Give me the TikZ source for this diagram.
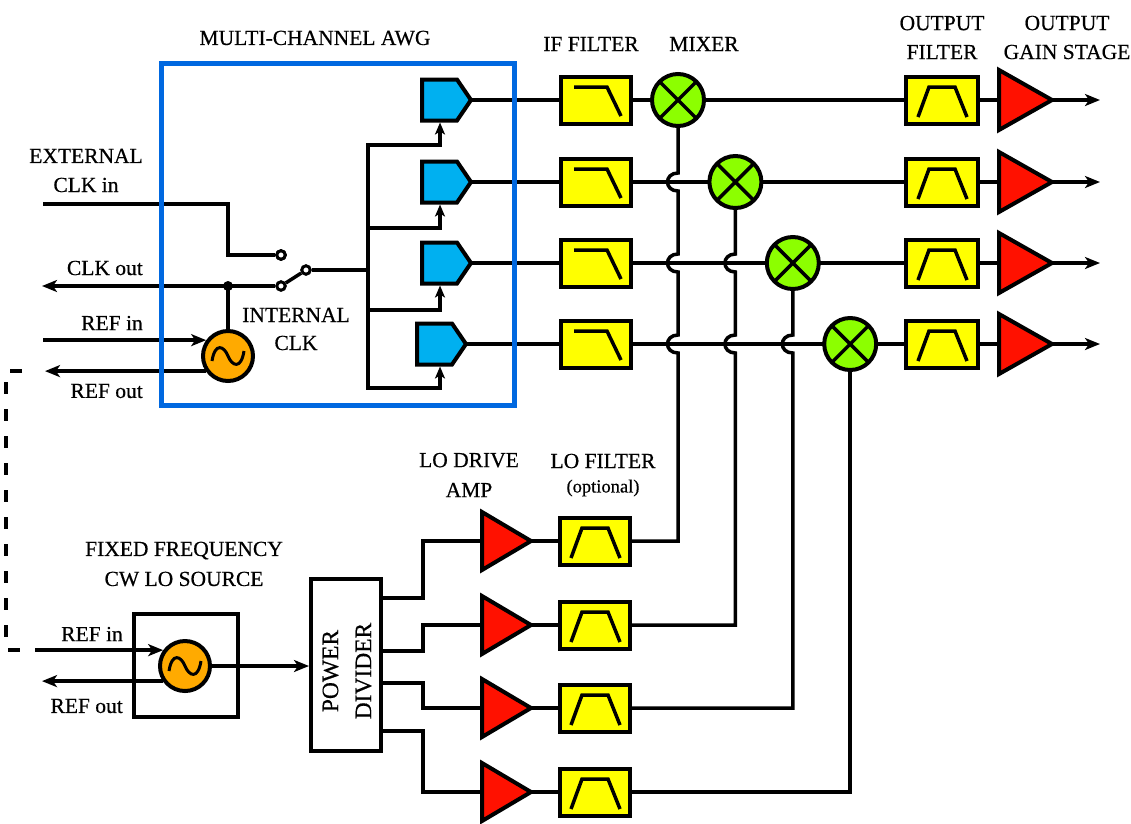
\documentclass[tikz,border=0pt]{standalone}
\usepackage{fontspec}
\setmainfont{Liberation Serif}[FakeBold=0.5]
\usetikzlibrary{arrows.meta}
\definecolor{awgblue}{HTML}{0068E0}
\definecolor{dacblue}{HTML}{00B0F0}
\definecolor{fyel}{HTML}{FFFF00}
\definecolor{mixgreen}{HTML}{8CFF00}
\definecolor{ampred}{HTML}{FF1100}
\definecolor{oscorange}{HTML}{FFAA00}
\newcommand\mysine[1]{\draw[symline,line width=3pt] ([shift={(-16,5)}]#1.center) .. controls ([shift={(-13,-14)}]#1.center) and ([shift={(-4,-10)}]#1.center) .. (#1.center) .. controls ([shift={(4,10)}]#1.center) and ([shift={(13,14)}]#1.center) .. ([shift={(16,-5)}]#1.center);}
\newcommand\lpsym[1]{\draw[symline] ([shift={(-22,-13)}]#1.center) -- ([shift={(11,-13)}]#1.center) -- ([shift={(25,16)}]#1.center);}
\newcommand\bpsym[1]{\draw[symline] ([shift={(-24,17)}]#1.center) -- ([shift={(-13,-13)}]#1.center) -- ([shift={(13,-13)}]#1.center) -- ([shift={(25,17)}]#1.center);}
\newcommand\lohop[2]{-- (#1,#2-9) .. controls (#1-14,#2-9) and (#1-14,#2+9) .. (#1,#2+9)}
\newcommand\dacshape[3]{%
  \draw[line width=4pt,fill=dacblue] (#2,#3-20.5) -- (#2+35,#3-20.5) -- (#2+49,#3) -- (#2+35,#3+20.5) -- (#2,#3+20.5) -- cycle;
  \coordinate (#1-out) at (#2+49,#3);
  \coordinate (#1-clk) at (440,#3+22.5);}
\newcommand\ampshape[5]{%
  \draw[line width=4pt,fill=ampred] (#2,#3-#5) -- (#2+#4,#3) -- (#2,#3+#5) -- cycle;
  \coordinate (#1-in) at (#2,#3);
  \coordinate (#1-out) at (#2+#4,#3);}
\begin{document}
\begin{tikzpicture}[x=1pt,y=-1pt,
  wire/.style={line width=3.5pt},
  arr/.style={line width=3.5pt,-{Stealth[length=15pt,width=12pt,inset=4pt]}},
  sarr/.style={line width=3.5pt,-{Stealth[length=12pt,width=10pt,inset=3pt]}},
  symline/.style={line width=3.5pt},
  filt/.style={rectangle,draw,line width=4pt,fill=fyel,minimum width=70pt,minimum height=47pt,inner sep=0pt},
  mix/.style={circle,draw,line width=4pt,fill=mixgreen,minimum size=52pt,inner sep=0pt,outer sep=0pt},
  osc/.style={circle,draw,line width=4pt,fill=oscorange,minimum size=50pt,inner sep=0pt},
  plainbox/.style={rectangle,draw,line width=4pt,inner sep=0pt},
  contact/.style={circle,draw,line width=3pt,fill=white,minimum size=8.5pt,inner sep=0pt},
  lbl/.style={inner sep=0pt,align=center,font=\fontsize{21.5}{29}\selectfont},
]
\useasboundingbox (0,0) rectangle (1131,823);

% ---------- AWG internals ----------
\node[osc] (osc1) at (228,356) {};
\mysine{osc1}
\node[contact] (swext) at (281,255) {};
\node[contact] (swint) at (281,286) {};
\node[contact] (swpiv) at (306,270) {};
\node[circle,fill,minimum size=10pt,inner sep=0pt] (jdot) at (228,286) {};
\coordinate (extin) at (43,204);
\coordinate (extbend) at (228,204);
\coordinate (clkout) at (42,286);
\coordinate (refin1) at (43,340);
\coordinate (refout1) at (45,371);
\coordinate (br1) at (368,145);
\coordinate (br2) at (368,228);
\coordinate (br3) at (368,310);
\coordinate (br4) at (368,388);

\draw[wire] (extin) -- (extbend) |- (swext);
\draw[arr] (swint) -- (clkout);
\draw[wire] (jdot.center) -- (osc1.north);
\draw[wire] (swint) -- (swpiv);
\draw[wire] (swpiv) -- (swpiv -| br1);
\draw[wire,line cap=rect] (br1) -- (br4);
\draw[arr] (osc1.144 -| refin1) -- (osc1.144);
\draw[arr] (osc1.214) -- (osc1.214 -| refout1);
\node[contact] at (swext) {};

% ---------- channels ----------
\foreach \n/\y/\mx/\dx in {1/100/678/422,2/182/735.4/422,3/263/792.8/422,4/344/850.2/417}{
  \dacshape{dac\n}{\dx}{\y}
  \node[filt] (iff\n) at (596,\y) {};
  \lpsym{iff\n}
  \node[mix] (mix\n) at (\mx,\y) {};
  \draw[symline] (mix\n.45) -- (mix\n.225) (mix\n.135) -- (mix\n.315);
  \node[filt,minimum width=72pt] (of\n) at (942,\y) {};
  \bpsym{of\n}
  \coordinate (outend\n) at (1100,\y);
  \draw[wire] (dac\n-out) -- (iff\n);
  \draw[wire] (iff\n) -- (mix\n);
  \draw[wire] (mix\n) -- (of\n);
  \draw[wire] (of\n.east) -- (999,\y);
  \ampshape{oa\n}{999}{\y}{53}{30}
  \draw[arr] (oa\n-out) -- (outend\n);
}
\draw[sarr] (br1) -| (dac1-clk);
\draw[sarr] (br2) -| (dac2-clk);
\draw[sarr] (br3) -| (dac3-clk);
\draw[sarr] (br4) -| (dac4-clk);

% ---------- LO section ----------
\node[plainbox,minimum width=104pt,minimum height=103pt] (losrc) at (186,665.5) {};
\node[osc] (osc2) at (185,666) {};
\mysine{osc2}
\node[plainbox,minimum width=70pt,minimum height=172pt] (pd) at (346,665) {};
\node[lbl,rotate=90,font=\fontsize{23.5}{33}\selectfont] (pdtext) at (347,671) {POWER\\DIVIDER};
\coordinate (refin2) at (35,650);
\coordinate (refout2) at (42,681);
\draw[arr] (osc2.144 -| refin2) -- (osc2.144);
\draw[arr] (osc2.214) -- (osc2.214 -| refout2);
\draw[arr] (osc2.east) -- (osc2.east -| pd.west);

\foreach \n/\ly in {1/541,2/625,3/708,4/792}{
  \node[filt] (lof\n) at (595,\ly) {};
  \bpsym{lof\n}
  \ampshape{la\n}{482}{\ly}{49}{29}
  \draw[wire] (la\n-out) -- (lof\n);
}
\draw[wire] ([yshift=67pt]pd.east) -- ++(40,0) |- (la1-in);
\draw[wire] ([yshift=14pt]pd.east) -- ++(40,0) |- (la2-in);
\draw[wire] ([yshift=-18pt]pd.east) -- ++(40,0) |- (la3-in);
\draw[wire] ([yshift=-66pt]pd.east) -- ++(40,0) |- (la4-in);

\draw[wire] (mix1.south) \lohop{678}{182}\lohop{678}{263}\lohop{678}{344} -- (mix1.south |- lof1.east) -- (lof1.east);
\draw[wire] (mix2.south) \lohop{735.4}{263}\lohop{735.4}{344} -- (mix2.south |- lof2.east) -- (lof2.east);
\draw[wire] (mix3.south) \lohop{792.8}{344} -- (mix3.south |- lof3.east) -- (lof3.east);
\draw[wire] (mix4.south) -- (mix4.south |- lof4.east) -- (lof4.east);

% dashed reference link
\coordinate (dashA) at (22,371);
\coordinate (dashB) at (22,650);
\draw[line width=4pt,dash pattern=on 12pt off 15pt] (dashA) -- (6,371) -- (6,650) -- (dashB);

% ---------- AWG frame ----------
\node[draw=awgblue,line width=5pt,minimum width=353pt,minimum height=342pt,inner sep=0pt] (awg) at (338,234.5) {};

% ---------- labels ----------
\node[lbl] (tawg) at (315,38) {MULTI-CHANNEL AWG};
\node[lbl] (tif) at (591,44) {IF FILTER};
\node[lbl] (tmix) at (704,44) {MIXER};
\node[lbl] (tof) at (942,37.5) {OUTPUT\\FILTER};
\node[lbl] (tgain) at (1067,37.5) {OUTPUT\\GAIN STAGE};
\node[lbl] (text) at (86,170.5) {EXTERNAL\\CLK in};
\node[lbl,anchor=east] (tclkout) at (143,268) {CLK out};
\node[lbl,anchor=east] (trefin1) at (143,323) {REF in};
\node[lbl,anchor=east] (trefout1) at (143,391) {REF out};
\node[lbl,font=\fontsize{21.5}{28}\selectfont] (tint) at (296,329) {INTERNAL\\CLK};
\node[lbl,font=\fontsize{21.5}{30}\selectfont] (tlod) at (469,475) {LO DRIVE\\AMP};
\node[lbl] (tlof) at (603,461) {LO FILTER};
\node[lbl,font=\fontsize{18.5}{21}\selectfont] (topt) at (603,488) {(optional)};
\node[lbl,font=\fontsize{21.5}{30}\selectfont] (tfix) at (184,564) {FIXED FREQUENCY\\CW LO SOURCE};
\node[lbl,anchor=east] (trefin2) at (123,634) {REF in};
\node[lbl,anchor=east] (trefout2) at (123,706) {REF out};
\end{tikzpicture}
\end{document}
